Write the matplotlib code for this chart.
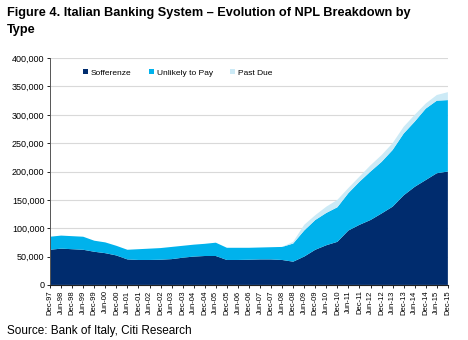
import matplotlib
matplotlib.use("Agg")
import matplotlib.pyplot as plt
import numpy as np
from matplotlib.ticker import FuncFormatter

plt.rcParams['font.family'] = ['Liberation Sans', 'DejaVu Sans']

# semiannual periods, Dec-97 .. Dec-15
periods = []
for yr in range(97, 116):
    y = yr % 100
    if yr > 97:
        periods.append("Jun-%02d" % y)
    periods.append("Dec-%02d" % y)

# values in thousands of EUR
sofferenze = [62, 64, 63, 62, 58.5, 56, 52, 45, 44, 44, 44.5, 45.5, 48, 50, 51, 51,
              44, 44, 44.5, 45, 45, 44, 41, 50, 62, 70, 76, 96, 106, 114.5, 126, 138,
              158, 173, 185, 197, 200]
unlikely = [23, 23, 23, 23, 19.5, 19, 17, 17, 19, 20, 20.5, 21.5, 21, 21, 21.5, 23.5,
            21.5, 21.5, 21, 21, 21.5, 23, 32, 46, 52.5, 57, 61, 66, 76, 85.5, 91, 100,
            109, 115, 126, 128, 126]
past_due = [0, 0, 0, 0, 0, 0, 0, 0, 0, 0, 0, 0, 0, 0, 0, 0,
            0, 0, 0, 0, 0, 0, 3, 10, 8.5, 11, 13, 9, 9, 11, 12, 12,
            12, 12, 9, 10, 14]

x = np.arange(len(periods))
s1 = np.array(sofferenze) * 1000
s2 = np.array(unlikely) * 1000
s3 = np.array(past_due) * 1000

fig = plt.figure(figsize=(4.68, 3.40), dpi=100)
ax = fig.add_axes([0.107, 0.162, 0.85, 0.667])

ax.yaxis.grid(True, color='#d9d9d9', linewidth=0.8)
ax.set_axisbelow(True)

cols = ['#002C6E', '#00B2EC', '#CCEAF6']
ax.stackplot(x, s1, s2, s3, colors=cols, labels=['Sofferenze', 'Unlikely to Pay', 'Past Due'],
             linewidth=0)

ax.set_xlim(0, len(periods) - 1)
ax.set_ylim(0, 400000)
ax.set_yticks(np.arange(0, 400001, 50000))
ax.yaxis.set_major_formatter(FuncFormatter(lambda v, p: f"{int(v):,}"))
ax.set_xticks(x)
ax.set_xticklabels(periods, rotation=90, fontsize=5.5)
ax.tick_params(axis='y', labelsize=6.5, length=2, width=0.6, pad=2)
ax.tick_params(axis='x', length=2.5, width=0.6, pad=1.5)

for side in ['top', 'right']:
    ax.spines[side].set_visible(False)
ax.spines['left'].set_color('#555555')
ax.spines['bottom'].set_color('#222222')
ax.spines['left'].set_linewidth(0.7)
ax.spines['bottom'].set_linewidth(0.8)

ax.legend(loc='upper left', bbox_to_anchor=(0.065, 0.985), ncol=3, frameon=False,
          fontsize=6, handlelength=0.6, handleheight=0.6, handletextpad=0.3,
          columnspacing=2.1)

fig.text(0.015, 0.978, "Figure 4. Italian Banking System \u2013 Evolution of NPL Breakdown by\nType",
         fontsize=9.2, fontweight='bold', va='top', ha='left', linespacing=1.55)
fig.text(0.015, 0.008, "Source: Bank of Italy, Citi Research", fontsize=8.5, va='bottom', ha='left')

fig.savefig("out.png", dpi=100)
